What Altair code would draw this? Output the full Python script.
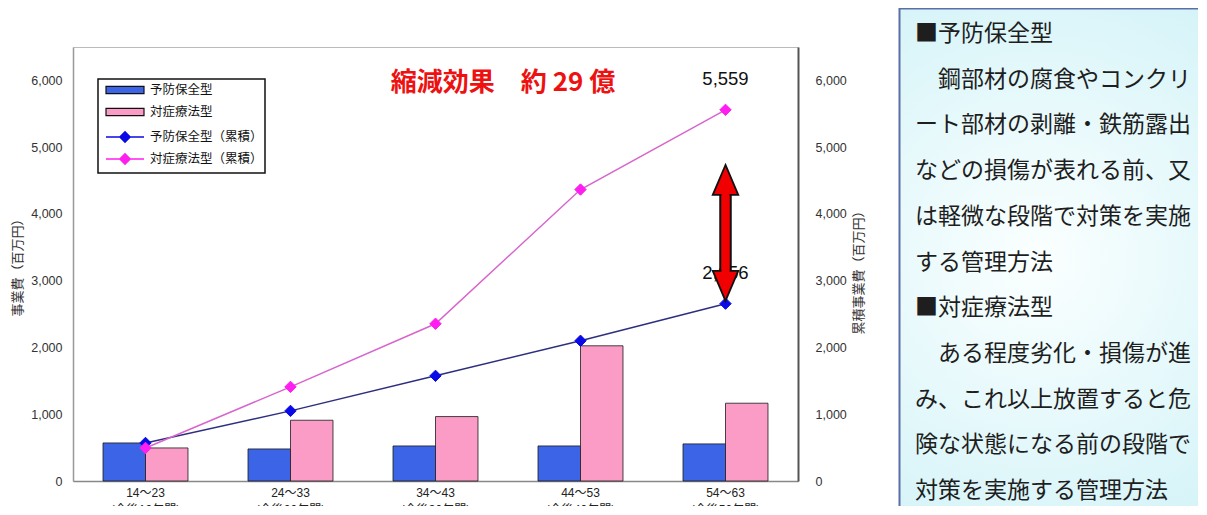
import altair as alt
import pandas as pd

# ---------------- data ----------------
periods = ["14～23", "24～33", "34～43", "44～53", "54～63"]
spans = ["(今後10年間)", "(今後20年間)", "(今後30年間)", "(今後40年間)", "(今後50年間)"]
bar_series = ["予防保全型", "対症療法型"]
cum_series = ["予防保全型（累積）", "対症療法型（累積）"]
bars_prev = [570, 480, 525, 525, 556]
bars_symp = [495, 910, 965, 2025, 1165]
cum_prev = [570, 1050, 1575, 2100, 2656]
cum_symp = [495, 1410, 2355, 4365, 5559]
y_ticks = [0, 1000, 2000, 3000, 4000, 5000, 6000]
y_max = 6500
# double arrow between the two totals (values on the cumulative axis)
arrow_head_up = [4509]
arrow_head_down = [2921]
arrow_shaft = [3131, 4284]
note = "縮減効果　約 29 億"
box_lines = [
    "■予防保全型",
    "鋼部材の腐食やコンクリ",
    "ート部材の剥離・鉄筋露出",
    "などの損傷が表れる前、又",
    "は軽微な段階で対策を実施",
    "する管理方法",
    "■対症療法型",
    "ある程度劣化・損傷が進",
    "み、これ以上放置すると危",
    "険な状態になる前の段階で",
    "対策を実施する管理方法",
]
box_indented = [False, True, False, False, False, False, False, True, False, False, False]

FONT_NUM = "Liberation Sans, Arial, Noto Sans CJK JP, sans-serif"
FONT_JP = "Noto Sans CJK JP, sans-serif"

cats = [p + "|" + s for p, s in zip(periods, spans)]

df_bars = pd.DataFrame(
    [{"cat": c, "series": bar_series[0], "value": v} for c, v in zip(cats, bars_prev)]
    + [{"cat": c, "series": bar_series[1], "value": v} for c, v in zip(cats, bars_symp)]
)
df_cum = pd.DataFrame(
    [{"cat": c, "series": cum_series[0], "value": v} for c, v in zip(cats, cum_prev)]
    + [{"cat": c, "series": cum_series[1], "value": v} for c, v in zip(cats, cum_symp)]
)
df_last = pd.DataFrame({"cat": [cats[-1], cats[-1]], "value": [cum_symp[-1], cum_prev[-1]]})
df_arrow = pd.DataFrame({
    "cat": [cats[-1]],
    "lo": [arrow_shaft[0]], "hi": [arrow_shaft[1]],
    "clo": [arrow_shaft[0] - 40], "chi": [arrow_shaft[1] + 40],
    "up": arrow_head_up, "down": arrow_head_down,
})
df_one = pd.DataFrame({"t": [note]})
df_box = pd.DataFrame({"row": list(range(len(box_lines))), "t": box_lines, "ind": box_indented})

xscale = alt.Scale(paddingInner=0.414, paddingOuter=0.207)
yscale = alt.Scale(domain=[0, y_max], nice=False, zero=True)

x_axis = alt.Axis(
    title=None, labelAngle=0, labelExpr="split(datum.label, '|')",
    labelFont=FONT_NUM, labelFontSize=12, labelColor="#222", labelPadding=6,
    labelLineHeight=17, ticks=False, domainColor="#888", domainWidth=1.5,
)
left_axis = alt.Axis(
    values=y_ticks, format=",.0f", title="事業費（百万円）", titleFont=FONT_JP,
    titleFontSize=13, titleFontWeight="normal", titleColor="#333", titlePadding=6,
    labelFont=FONT_NUM, labelFontSize=12.5, labelColor="#333", labelPadding=11,
    ticks=False, domainColor="#999", domainWidth=1.5, grid=False,
)
right_axis = alt.Axis(
    orient="right", values=y_ticks, format=",.0f", title="累積事業費（百万円）",
    titleFont=FONT_JP, titleFontSize=13, titleFontWeight="normal", titleColor="#333",
    titleAngle=270, titleX=60, titleY=222, titleAlign="center", titleBaseline="middle",
    labelFont=FONT_NUM, labelFontSize=12.5, labelColor="#333", labelPadding=17,
    ticks=False, domainColor="#555", domainWidth=2, grid=False,
)


def X():
    return alt.X("cat:N", sort=cats, scale=xscale, axis=x_axis)


def YR(field):
    return alt.Y(field, scale=yscale, axis=right_axis)


bar_legend = alt.Legend(
    title=None, orient="none", legendX=32, legendY=35, padding=0,
    symbolType="M-1,-0.19L1,-0.19L1,0.19L-1,0.19Z", symbolSize=1444,
    symbolStrokeColor="#111", symbolStrokeWidth=1.2, clipHeight=16, rowPadding=6,
    labelFont=FONT_JP, labelFontSize=12.5, labelColor="#111", labelOffset=5,
)
line_legend = alt.Legend(
    title=None, orient="none", legendX=32, legendY=82, padding=0,
    symbolType="M-1,0L1,0M0,-0.27L0.27,0L0,0.27L-0.27,0Z", symbolSize=1444,
    symbolStrokeWidth=1.5, clipHeight=16, rowPadding=6,
    labelFont=FONT_JP, labelFontSize=12.5, labelColor="#111", labelOffset=5,
)

# ---------------- decorations ----------------
box_rect = alt.Chart(df_one).mark_rect(
    fill=alt.RadialGradient(
        gradient="radial",
        stops=[alt.GradientStop(color="#fbffff", offset=0),
               alt.GradientStop(color="#c6eff5", offset=1)],
        x1=0.45, y1=0.45, x2=0.45, y2=0.45, r1=0, r2=0.75,
    ),
    stroke="#5a6ea8", strokeWidth=2,
).encode(x=alt.value(826.5), x2=alt.value(1160), y=alt.value(-38.5), y2=alt.value(520))

box_y = alt.Y("row:O", scale=alt.Scale(domain=list(range(len(box_lines))), range=[-13, 444],
                                       padding=0), axis=None)
box_text_plain = alt.Chart(df_box).transform_filter("!datum.ind").mark_text(
    align="left", baseline="middle", font=FONT_JP, fontSize=23, color="#1e1e1e",
).encode(x=alt.value(842), y=box_y, text="t:N")
box_text_indent = alt.Chart(df_box).transform_filter("datum.ind").mark_text(
    align="left", baseline="middle", font=FONT_JP, fontSize=23, color="#1e1e1e",
).encode(x=alt.value(865), y=box_y, text="t:N")

legend_rect = alt.Chart(df_one).mark_rect(
    fill="white", stroke="#111", strokeWidth=1.5
).encode(x=alt.value(25), x2=alt.value(192), y=alt.value(32), y2=alt.value(126))

note_text = alt.Chart(df_one).mark_text(
    font=FONT_JP, fontSize=26, fontWeight="bold", color="#ee1111",
    align="center", baseline="middle",
).encode(x=alt.value(430), y=alt.value(36), text="t:N")

# ---------------- bars (left axis) ----------------
bars = alt.Chart(df_bars).mark_bar(stroke="#1a1a1a", strokeWidth=0.8).encode(
    x=X(),
    xOffset=alt.XOffset("series:N", sort=bar_series,
                        scale=alt.Scale(domain=bar_series, paddingInner=0, paddingOuter=0)),
    y=alt.Y("value:Q", scale=yscale, axis=left_axis),
    color=alt.Color("series:N", scale=alt.Scale(domain=bar_series, range=["#3c64e6", "#fa9cc6"]),
                    legend=bar_legend),
)

# ---------------- cumulative lines (right axis) ----------------
base_cum = alt.Chart(df_cum)
line_prev = base_cum.transform_filter(alt.datum.series == cum_series[0]).mark_line(
    color="#2e2e80", strokeWidth=1.5
).encode(x=X(), y=YR("value:Q"))
line_symp = base_cum.transform_filter(alt.datum.series == cum_series[1]).mark_line(
    color="#d865cc", strokeWidth=1.5
).encode(x=X(), y=YR("value:Q"))
points = base_cum.mark_point(shape="diamond", filled=True, size=130, opacity=1, strokeWidth=1).encode(
    x=X(), y=YR("value:Q"),
    fill=alt.Fill("series:N", scale=alt.Scale(domain=cum_series, range=["#0a0ae6", "#ff1ef0"]),
                  legend=line_legend),
    stroke=alt.Stroke("series:N", scale=alt.Scale(domain=cum_series, range=["#0a0ae6", "#ff1ef0"]),
                      legend=line_legend),
)
labels = alt.Chart(df_last).mark_text(
    dy=-31, fontSize=18.5, font=FONT_NUM, color="#111", baseline="middle"
).encode(x=X(), y=YR("value:Q"), text=alt.Text("value:Q", format=",.0f"))

arrow_base = alt.Chart(df_arrow)
shaft_black = arrow_base.mark_rule(color="#111", strokeWidth=12.5).encode(
    x=X(), y=YR("lo:Q"), y2="hi:Q")
shaft_red = arrow_base.mark_rule(color="#f00000", strokeWidth=8).encode(
    x=X(), y=YR("lo:Q"), y2="hi:Q")
head_up = arrow_base.mark_point(
    shape="M0,-1L0.85,1L-0.85,1Z", size=900, filled=True, fill="#f00000",
    stroke="#111", strokeWidth=1.8, opacity=1,
).encode(x=X(), y=YR("up:Q"))
head_down = arrow_base.mark_point(
    shape="M0,1L0.85,-1L-0.85,-1Z", size=900, filled=True, fill="#f00000",
    stroke="#111", strokeWidth=1.8, opacity=1,
).encode(x=X(), y=YR("down:Q"))
shaft_cover = arrow_base.mark_rule(color="#f00000", strokeWidth=8).encode(
    x=X(), y=YR("clo:Q"), y2="chi:Q")

right_layer = alt.layer(line_prev, line_symp, points, labels,
                        shaft_black, shaft_red, head_up, head_down, shaft_cover)

chart = alt.layer(
    box_rect, box_text_plain, box_text_indent, legend_rect, bars, right_layer, note_text
).resolve_scale(y="independent").properties(
    width=725, height=434,
    autosize=alt.AutoSizeParams(type="none"),
    padding={"left": 65, "top": 39, "right": 400, "bottom": 25},
    background="white",
).configure_view(stroke="#bbbbbb", strokeWidth=1)

chart.save("out.html", embed_options={"renderer": "svg", "actions": False})
